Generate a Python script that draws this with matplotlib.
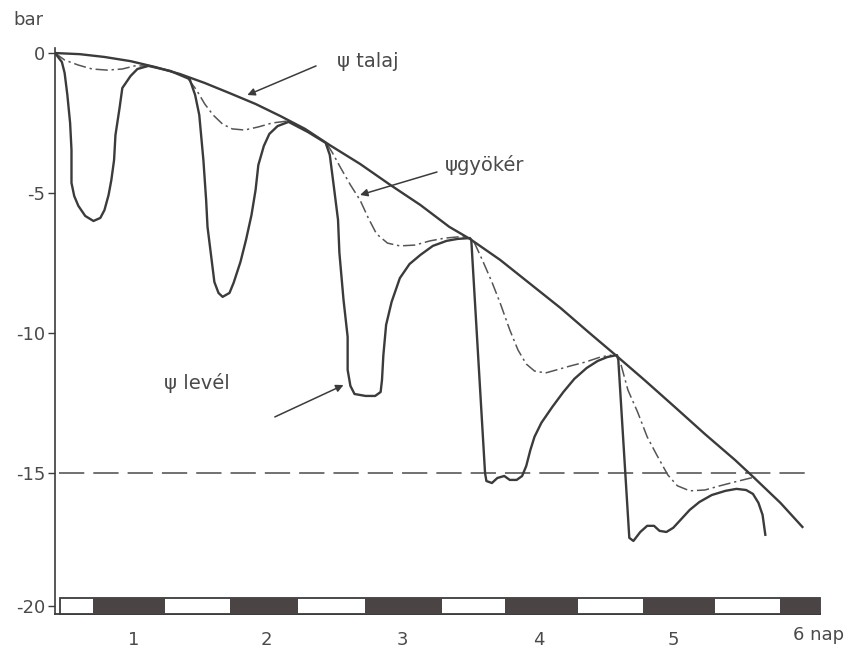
import numpy as np
import matplotlib
matplotlib.use("Agg")
from matplotlib import pyplot as plt
from matplotlib.patches import Rectangle

# =============================================================================
# data (x: days, y: water potential in bar)
# =============================================================================

soil_x = [0.00, 0.18, 0.36, 0.55, 0.73, 0.91, 1.09, 1.27, 1.46, 1.64, 1.82, 2.00,
          2.22, 2.44, 2.66, 2.87, 3.02, 3.24, 3.46, 3.68, 3.89, 4.08, 4.29, 4.51,
          4.73, 4.95, 5.09, 5.28, 5.44]
soil_y = [0.00, -0.04, -0.14, -0.29, -0.50, -0.75, -1.07, -1.43, -1.82, -2.25, -2.71,
          -3.29, -3.96, -4.71, -5.43, -6.21, -6.64, -7.39, -8.25, -9.11, -10.00,
          -10.79, -11.68, -12.64, -13.61, -14.54, -15.18, -16.07, -16.93]

leaf_x = [0.00, 0.05, 0.07, 0.09, 0.11, 0.12, 0.12, 0.14, 0.17, 0.22, 0.28, 0.33,
          0.36, 0.39, 0.41, 0.43, 0.44, 0.47, 0.49, 0.55, 0.60, 0.68, 0.84, 0.96,
          0.98, 1.02, 1.05, 1.08, 1.10, 1.11, 1.14, 1.16, 1.19, 1.22, 1.27, 1.30,
          1.35, 1.39, 1.43, 1.46, 1.48, 1.52, 1.56, 1.62, 1.70, 1.84, 1.97,
          2.00, 2.03, 2.06, 2.07, 2.10, 2.13, 2.13, 2.15, 2.18, 2.26, 2.33, 2.37,
          2.38, 2.39, 2.41, 2.45, 2.51, 2.58, 2.66, 2.75, 2.85, 2.93, 3.02,
          3.03, 3.13, 3.14, 3.18, 3.22, 3.27, 3.31, 3.36, 3.40, 3.43, 3.46, 3.49,
          3.54, 3.62, 3.70, 3.78, 3.87, 3.95, 4.02, 4.09,
          4.10, 4.18, 4.21, 4.26, 4.31, 4.36, 4.40, 4.45, 4.50, 4.56, 4.62, 4.69,
          4.78, 4.88, 4.96, 5.03, 5.08, 5.12, 5.15, 5.17]
leaf_y = [0.00, -0.32, -0.71, -1.50, -2.50, -3.46, -4.64, -5.11, -5.46, -5.82, -6.00,
          -5.89, -5.61, -5.07, -4.54, -3.82, -2.93, -1.96, -1.25, -0.82, -0.57,
          -0.46, -0.64, -0.89,
          -0.93, -1.50, -2.21, -3.82, -5.25, -6.21, -7.39, -8.18, -8.57, -8.71,
          -8.57, -8.21, -7.46, -6.68, -5.79, -4.89, -4.00, -3.32, -2.89, -2.61,
          -2.46, -2.82, -3.21,
          -3.64, -4.79, -5.96, -7.14, -8.82, -10.14, -11.32, -11.89, -12.18,
          -12.25, -12.25, -12.11, -11.68, -10.79, -9.71, -8.89, -8.04, -7.54,
          -7.21, -6.89, -6.71, -6.64, -6.61,
          -6.68, -15.00, -15.29, -15.36, -15.18, -15.11, -15.25, -15.25, -15.11,
          -14.75, -14.18, -13.71, -13.21, -12.64, -12.11, -11.64, -11.25, -11.00,
          -10.86, -10.79,
          -10.96, -17.32, -17.43, -17.11, -16.89, -16.89, -17.07, -17.11, -16.96,
          -16.64, -16.32, -16.04, -15.79, -15.64, -15.57, -15.61, -15.75, -16.07,
          -16.50, -17.21]

# root curve, NaN separates the daily segments (between them it runs on the soil line)
root_x = [0.00, 0.07, 0.17, 0.27, 0.38, 0.49, 0.58, 0.68, np.nan,
          0.97, 1.03, 1.09, 1.15, 1.22, 1.29, 1.38, 1.48, 1.58, 1.69, np.nan,
          1.98, 2.02, 2.08, 2.15, 2.22, 2.28, 2.34, 2.42, 2.51, 2.62, 2.73, 2.84,
          2.93, 3.01, np.nan,
          3.05, 3.11, 3.18, 3.24, 3.31, 3.37, 3.43, 3.49, 3.57, 3.65, 3.75, 3.86,
          3.97, 4.05, np.nan,
          4.12, 4.17, 4.24, 4.31, 4.38, 4.46, 4.53, 4.62, 4.73, 4.84, 4.95, 5.04,
          5.10]
root_y = [0.00, -0.25, -0.43, -0.57, -0.61, -0.57, -0.46, -0.46, np.nan,
          -0.93, -1.32, -1.82, -2.21, -2.54, -2.71, -2.75, -2.64, -2.50, -2.43, np.nan,
          -3.25, -3.57, -4.11, -4.71, -5.25, -5.89, -6.46, -6.79, -6.89, -6.86,
          -6.71, -6.61, -6.57, -6.57, np.nan,
          -6.75, -7.39, -8.18, -8.93, -9.89, -10.61, -11.11, -11.36, -11.43,
          -11.32, -11.18, -11.04, -10.86, -10.79, np.nan,
          -11.14, -12.04, -12.82, -13.71, -14.36, -15.07, -15.46, -15.64, -15.61,
          -15.46, -15.32, -15.21, -15.14]

wilting_point = -15  # bar

# light / dark bar at the bottom
dark_start = [0.277, 1.274, 2.256, 3.275, 4.279, 5.277]
dark_end = [0.801, 1.769, 2.817, 3.806, 4.803, 5.568]

day_ticks = [0.57, 1.54, 2.53, 3.52, 4.50]
day_labels = ["1", "2", "3", "4", "5"]
y_ticks = [0, -5, -10, -15, -19.75]
y_labels = ["0", "-5", "-10", "-15", "-20"]

# =============================================================================
# plot
# =============================================================================

ink = "#3b3b3b"
txt = "#4a4a4a"

fig = plt.figure(figsize=(8.57, 6.5), dpi=100)
ax = fig.add_axes([55 / 857, 1 - 614 / 650, 765 / 857, 566 / 650])
ax.set_xlim(0, 5.568)
ax.set_ylim(-20.04, 0.18)

# horizontal dashed line at -15 bar
ax.plot([0.03, 5.48], [wilting_point, wilting_point], color="#666666", lw=1.3,
        dashes=(14, 5), zorder=2)

ax.plot(soil_x, soil_y, color=ink, lw=1.7, zorder=4)
ax.plot(leaf_x, leaf_y, color=ink, lw=1.7, zorder=4, solid_joinstyle="round")
ax.plot(root_x, root_y, color="#555555", lw=1.1, dashes=(8, 2.5, 1.5, 2.5), zorder=3)

# day/night strip
strip_bottom, strip_top = -20.04, -19.46
ax.add_patch(Rectangle((0.036, strip_bottom), 5.568 - 0.036, strip_top - strip_bottom,
                       facecolor="white", edgecolor=ink, lw=1.3, zorder=5,
                       clip_on=False))
ax.broken_barh([(s, e - s) for s, e in zip(dark_start, dark_end)],
               (strip_bottom, strip_top - strip_bottom), facecolor="#4a4444",
               edgecolor="none", zorder=6, clip_on=False)

# axes styling
for side in ["top", "right"]:
    ax.spines[side].set_visible(False)
ax.spines["left"].set_color(ink)
ax.spines["left"].set_linewidth(1.2)
ax.spines["bottom"].set_color(ink)
ax.spines["bottom"].set_linewidth(1.3)

ax.set_yticks(y_ticks)
ax.set_yticklabels(y_labels, fontsize=13, color=txt)
ax.tick_params(axis="y", length=5, width=1, color=ink, pad=2)
ax.set_xticks(day_ticks)
ax.set_xticklabels(day_labels, fontsize=13, color=txt)
ax.tick_params(axis="x", length=0, pad=12)

ax.text(5.37, -20.8, "6 nap", fontsize=13, color=txt, ha="left", va="center",
        clip_on=False)
fig.text(28 / 857, 1 - 20 / 650, "bar", fontsize=13, color=txt, ha="center",
         va="center")

# labels with arrows
arrow = dict(arrowstyle="-|>", lw=1.1, color=ink, mutation_scale=11,
             shrinkA=0, shrinkB=0)
ax.annotate("", xy=(1.40, -1.50), xytext=(1.90, -0.46), arrowprops=arrow)
ax.text(2.05, -0.32, "ψ talaj", fontsize=14, color=txt, va="center")

ax.annotate("", xy=(2.22, -5.07), xytext=(2.78, -4.25), arrowprops=arrow)
ax.text(2.84, -4.0, "ψgyökér", fontsize=14, color=txt, va="center")

ax.annotate("", xy=(2.10, -11.86), xytext=(1.60, -13.0), arrowprops=arrow)
ax.text(0.79, -11.79, "ψ levél", fontsize=14, color=txt, va="center")

plt.savefig("out.png", dpi=100)
